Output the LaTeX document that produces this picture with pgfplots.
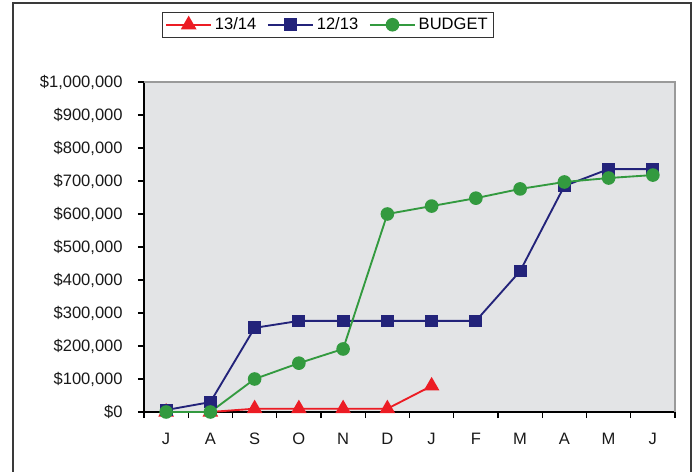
\documentclass[border=0pt]{standalone}
\usepackage{fontspec}
\setmainfont{Liberation Sans}
\usepackage{pgfplots}
\pgfplotsset{compat=1.18}
\definecolor{RedS}{HTML}{EC1C24}
\definecolor{NavyS}{HTML}{23237A}
\definecolor{GreenS}{HTML}{339A3F}
\definecolor{PlotBg}{HTML}{E3E4E6}
\definecolor{PlotEdge}{HTML}{9A9A9A}
\definecolor{Frame}{HTML}{3A3A3A}

\begin{document}
\begin{tikzpicture}[x=0.75pt,y=0.75pt]
\useasboundingbox (0,0) rectangle (694,472);
\draw[Frame,line width=1.4pt] (13,-2) -- (13,469) -- (691,469) -- (691,-2);
\begin{axis}[
  at={(108pt,45pt)},anchor=south west,
  scale only axis,width=398.25pt,height=247.5pt,
  font=\fontsize{12.4}{14}\selectfont,
  axis lines*=left,
  axis line style={-,black,line width=0.8pt},
  axis background/.style={fill=PlotBg},
  xmin=-0.5,xmax=11.5,
  ymin=0,ymax=1000000,
  xtick={0,...,11},
  xticklabels={J,A,S,O,N,D,J,F,M,A,M,J},
  major x tick style={draw=none},
  minor xtick={-0.5,0.5,...,11.5},
  minor tick length=4.5pt,
  minor x tick style={black,line width=0.8pt},
  ytick={0,100000,...,1000000},
  scaled y ticks=false,
  yticklabel={\$\pgfmathprintnumber[fixed,1000 sep={,},assume math mode=true]{\tick}},
  tick align=outside,
  major tick length=4.5pt,
  y tick style={black,line width=0.8pt},
  xticklabel style={yshift=-8pt},
  yticklabel style={xshift=-8pt},
  tick label style={text=black!90},
  clip=false,
  legend columns=3,
  legend style={at={(0.0339,1.2121)},anchor=north west,draw=black!80,
    line width=0.6pt,fill=white,inner sep=2pt,
    /tikz/every even column/.append style={column sep=6pt}},
  legend image code/.code={%
    \draw[mark repeat=2,mark phase=2] plot coordinates {(0pt,0pt)(17pt,0pt)(34pt,0pt)};},
  after end axis/.code={
    \draw[PlotEdge,line width=1.5pt] (rel axis cs:0,1) -- (rel axis cs:1,1) -- (rel axis cs:1,0);},
]
\addplot[RedS,line width=1.4pt,mark=triangle*,mark size=5.4pt,mark options={solid}]
 coordinates {(0,0)(1,0)(2,10000)(3,10000)(4,10000)(5,10000)(6,79000)};
\addlegendentry{13/14}
\addplot[NavyS,line width=1.4pt,mark=square*,mark size=4.1pt]
 coordinates {(0,6000)(1,30000)(2,255000)(3,276000)(4,276000)(5,276000)
              (6,276000)(7,276000)(8,427000)(9,685000)(10,736000)(11,736000)};
\addlegendentry{12/13}
\addplot[GreenS,line width=1.4pt,mark=*,mark size=4.4pt]
 coordinates {(0,0)(1,0)(2,100000)(3,148000)(4,191000)(5,600000)
              (6,624000)(7,648000)(8,676000)(9,697000)(10,709000)(11,718000)};
\addlegendentry{BUDGET}
\end{axis}
\end{tikzpicture}
\end{document}
